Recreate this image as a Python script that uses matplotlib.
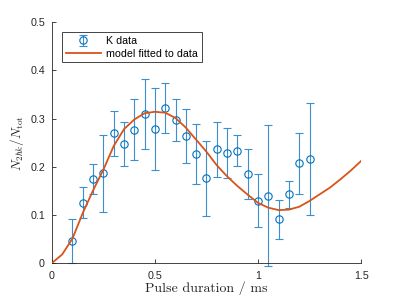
import numpy as np
import matplotlib
matplotlib.use('Agg')
import matplotlib.pyplot as plt

# measured data (pulse duration in ms)
t_data = [0.10, 0.15, 0.20, 0.25, 0.30, 0.35, 0.40, 0.45, 0.50, 0.55, 0.60, 0.65,
          0.70, 0.75, 0.80, 0.85, 0.90, 0.95, 1.00, 1.05, 1.10, 1.15, 1.20, 1.25]
frac_data = [0.046, 0.125, 0.174, 0.186, 0.269, 0.247, 0.277, 0.309, 0.278, 0.322, 0.297, 0.263,
             0.226, 0.176, 0.236, 0.229, 0.233, 0.184, 0.129, 0.140, 0.091, 0.143, 0.207, 0.216]
frac_err = [0.045, 0.032, 0.031, 0.079, 0.047, 0.045, 0.064, 0.072, 0.085, 0.052, 0.043, 0.056,
            0.062, 0.078, 0.057, 0.052, 0.032, 0.052, 0.055, 0.146, 0.040, 0.028, 0.064, 0.117]

# fitted model
t_fit = [0.00, 0.05, 0.10, 0.15, 0.20, 0.25, 0.30, 0.35, 0.40, 0.45, 0.50, 0.55, 0.60,
         0.65, 0.70, 0.75, 0.80, 0.85, 0.90, 0.95, 1.00, 1.05, 1.10, 1.15, 1.20, 1.25,
         1.30, 1.35, 1.40, 1.45, 1.50]
frac_fit = [0.000, 0.018, 0.051, 0.104, 0.151, 0.194, 0.243, 0.278, 0.298, 0.311, 0.314, 0.312, 0.301,
            0.281, 0.256, 0.231, 0.203, 0.180, 0.160, 0.142, 0.125, 0.115, 0.110, 0.111, 0.117, 0.129,
            0.143, 0.157, 0.174, 0.192, 0.212]

plt.rcParams['mathtext.fontset'] = 'cm'
plt.rcParams['font.family'] = ['Liberation Sans', 'DejaVu Sans']

fig = plt.figure(figsize=(3.99, 2.99), dpi=100)
ax = fig.add_axes([0.130, 0.120, 0.775, 0.806])

blue = '#0072BD'
orange = '#D95319'

eb = ax.errorbar(t_data, frac_data, yerr=frac_err, fmt='o', color=blue, ecolor='#3a8fcc',
                 mfc='none', ms=5.3, mew=0.8, elinewidth=0.8, capsize=3, capthick=0.8,
                 label='K data', clip_on=False, zorder=2)
ln, = ax.plot(t_fit, frac_fit, color=orange, lw=1.3, label='model fitted to data', zorder=3)

ax.set_xlim(0, 1.5)
ax.set_ylim(0, 0.5)
ax.set_xticks([0, 0.5, 1, 1.5])
ax.set_xticklabels(['0', '0.5', '1', '1.5'])
ax.set_yticks([0, 0.1, 0.2, 0.3, 0.4, 0.5])
ax.set_yticklabels(['0', '0.1', '0.2', '0.3', '0.4', '0.5'])

for s in ['top', 'right']:
    ax.spines[s].set_visible(False)
for s in ['left', 'bottom']:
    ax.spines[s].set_color('#262626')
    ax.spines[s].set_linewidth(0.6)
ax.tick_params(direction='in', length=3, width=0.6, color='#262626',
               labelcolor='#262626', labelsize=7.7)
ax.tick_params(axis='x', pad=5.5)
ax.tick_params(axis='y', pad=5)

ax.set_xlabel('Pulse duration / ms', fontsize=10, family='cmr10', color='#262626')
ax.xaxis.set_label_coords(0.5, -0.078)
ax.set_ylabel(r'$N_{2\hbar k}/N_{\mathrm{tot}}$', fontsize=9.5, color='#262626', labelpad=3)

leg = ax.legend([eb, ln], ['K data', 'model fitted to data'],
                loc='upper left', bbox_to_anchor=(0.032, 0.958), borderaxespad=0,
                fontsize=7.7, frameon=True, fancybox=False, handlelength=3.3,
                borderpad=0.35, labelspacing=0.25, handletextpad=0.5)
leg.get_frame().set_edgecolor('#262626')
leg.get_frame().set_linewidth(0.6)
leg.get_frame().set_alpha(1)

fig.savefig('out.png', dpi=100)
